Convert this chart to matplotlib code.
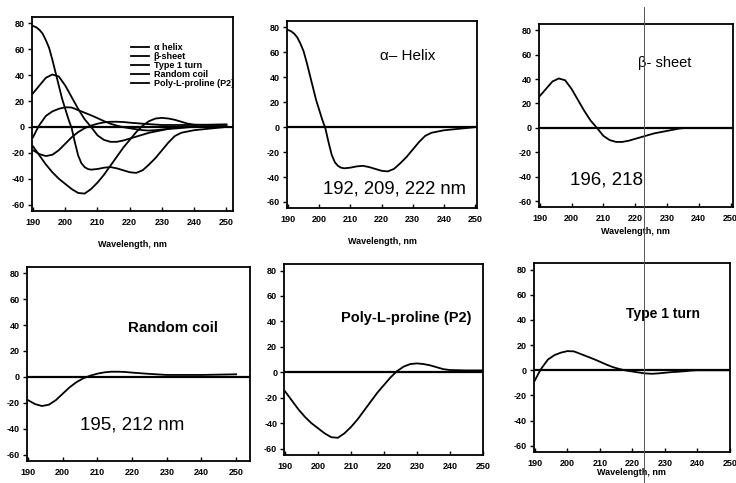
import matplotlib
matplotlib.use('Agg')
import matplotlib.pyplot as plt
from matplotlib.lines import Line2D

plt.rcParams['font.family'] = ['Liberation Sans', 'DejaVu Sans']
plt.rcParams['axes.unicode_minus'] = False

# CD spectra (wavelength nm, ellipticity)
helix_wl = [190, 191, 192, 193, 194, 195, 196, 197, 198, 199, 200, 201, 202, 203, 204, 205, 206, 207,
            208, 210, 212, 214, 216, 218, 220, 222, 224, 226, 228, 230, 232, 234, 236, 238, 240, 244, 248, 250]
helix_val = [78, 77, 75, 72, 67, 61, 52, 42, 32, 22, 14, 6, -1, -12, -22, -28, -31, -32.5,
             -33, -32.5, -31.5, -31, -32, -33.5, -35, -35.5, -33.5, -29, -24, -18, -12, -7, -4.5, -3.5, -2.5, -1.5, -0.5, 0]

sheet_wl = [190, 192, 194, 196, 198, 200, 202, 204, 206, 208, 210, 212, 214, 216, 218, 220, 222, 224,
            226, 228, 230, 232, 234, 236, 250]
sheet_val = [26, 32, 38, 40.5, 39, 32, 23, 14, 6, 0, -6.5, -10, -11.5, -11.5, -10.5, -9, -7.5, -6,
             -4.5, -3.5, -2.5, -1.5, -0.5, 0, 0]

turn_wl = [190, 191, 192, 194, 196, 198, 200, 202, 204, 206, 208, 210, 212, 214, 216, 218, 220, 222,
           224, 226, 228, 230, 232, 234, 236, 238, 240, 250]
turn_val = [-8, -3, 1.5, 8.5, 12, 14, 15.2, 15, 13, 11, 9, 6.8, 4.5, 2.5, 1, -0.2, -1, -1.8,
            -2.5, -2.8, -2.5, -2, -1.5, -1.2, -0.8, -0.3, 0, 0]

coil_wl = [190, 192, 194, 196, 198, 200, 202, 204, 206, 208, 210, 212, 214, 216, 218, 220, 224, 230, 240, 250]
coil_val = [-18, -21, -22.5, -21.5, -18, -13, -8, -4, -1, 1, 2.5, 3.5, 4, 4, 3.8, 3.3, 2.5, 1.5, 1.5, 2]

ppii_wl = [190, 192, 194, 196, 198, 200, 202, 204, 206, 208, 210, 212, 214, 216, 218, 220, 222, 224,
           226, 228, 230, 232, 234, 236, 238, 240, 245, 250]
ppii_val = [-15, -22, -29, -35, -40, -44, -48, -51, -51.5, -48, -43, -37, -30, -23, -16, -10, -4, 1,
            4.5, 6.5, 7, 6.5, 5.5, 4, 2.5, 1.8, 1.5, 1.5]

legend_labels = ['\u03b1 helix', '\u03b2-sheet', 'Type 1 turn', 'Random coil', 'Poly-L-proline (P2)']
x_ticks = [190, 200, 210, 220, 230, 240, 250]
y_ticks = [80, 60, 40, 20, 0, -20, -40, -60]

fig = plt.figure(figsize=(7.36, 4.83), dpi=100)

# axes boxes: left, bottom, width, height, right x limit
boxes = [
    (0.0435, 0.563, 0.273, 0.402, 252.0),
    (0.390, 0.569, 0.258, 0.387, 250.6),
    (0.732, 0.571, 0.264, 0.379, 250.8),
    (0.0367, 0.0455, 0.303, 0.402, 254.0),
    (0.386, 0.058, 0.270, 0.395, 250.0),
    (0.7255, 0.064, 0.266, 0.391, 250.0),
]

axes = []
for left, bottom, w, h, xr in boxes:
    ax = fig.add_axes([left, bottom, w, h])
    ax.set_xlim(189.7, xr)
    ax.set_ylim(-65, 85)
    ax.set_xticks(x_ticks)
    ax.set_yticks(y_ticks)
    ax.tick_params(axis='x', direction='in', length=3, width=1, labelsize=6.5, pad=5)
    ax.tick_params(axis='y', direction='out', length=3, width=1, labelsize=6.5, pad=2)
    for lab in ax.get_xticklabels() + ax.get_yticklabels():
        lab.set_fontweight('bold')
    for sp in ax.spines.values():
        sp.set_linewidth(1.3)
    ax.axhline(0, color='black', lw=1.6)
    axes.append(ax)

lw = 1.3
ax = axes[0]
ax.plot(helix_wl, helix_val, color='black', lw=lw, label=legend_labels[0])
ax.plot(sheet_wl, sheet_val, color='black', lw=lw, label=legend_labels[1])
ax.plot(turn_wl, turn_val, color='black', lw=lw, label=legend_labels[2])
ax.plot(coil_wl, coil_val, color='black', lw=lw, label=legend_labels[3])
ax.plot(ppii_wl, ppii_val, color='black', lw=lw, label=legend_labels[4])
ax.legend(loc='upper left', bbox_to_anchor=(0.47, 0.89), frameon=False,
          handlelength=2.0, handletextpad=0.5, labelspacing=0.0, borderpad=0,
          prop={'size': 6.5, 'weight': 'bold'})

axes[1].plot(helix_wl, helix_val, color='black', lw=lw)
axes[1].text(219.5, 57, '\u03b1\u2013 Helix', fontsize=11, ha='left', va='center')
axes[1].text(201.2, -50, '192, 209, 222 nm', fontsize=13.3, ha='left', va='center')

axes[2].plot(sheet_wl, sheet_val, color='black', lw=lw)
axes[2].text(221, 53, '\u03b2- sheet', fontsize=10.5, ha='left', va='center')
axes[2].text(199.5, -43, '196, 218', fontsize=13.5, ha='left', va='center')

axes[3].plot(coil_wl, coil_val, color='black', lw=lw)
axes[3].text(218.9, 38, 'Random coil', fontsize=10.8, fontweight='bold', ha='left', va='center')
axes[3].text(205, -37, '195, 212 nm', fontsize=13.5, ha='left', va='center')

axes[4].plot(ppii_wl, ppii_val, color='black', lw=lw)
axes[4].text(207, 43, 'Poly-L-proline (P2)', fontsize=10.5, fontweight='bold', ha='left', va='center')

axes[5].plot(turn_wl, turn_val, color='black', lw=lw)
axes[5].text(218, 45, 'Type 1 turn', fontsize=10, fontweight='bold', ha='left', va='center')

for i, pad in ((0, 9), (1, 9), (2, 3), (5, 0)):
    axes[i].set_xlabel('Wavelength, nm', fontsize=6.5, fontweight='bold', labelpad=pad)

# fold line of the scan
fig.add_artist(Line2D([644 / 736, 644 / 736], [0.0, 0.985], transform=fig.transFigure,
                      color='#555555', lw=0.7))

fig.savefig('out.png', dpi=100)
